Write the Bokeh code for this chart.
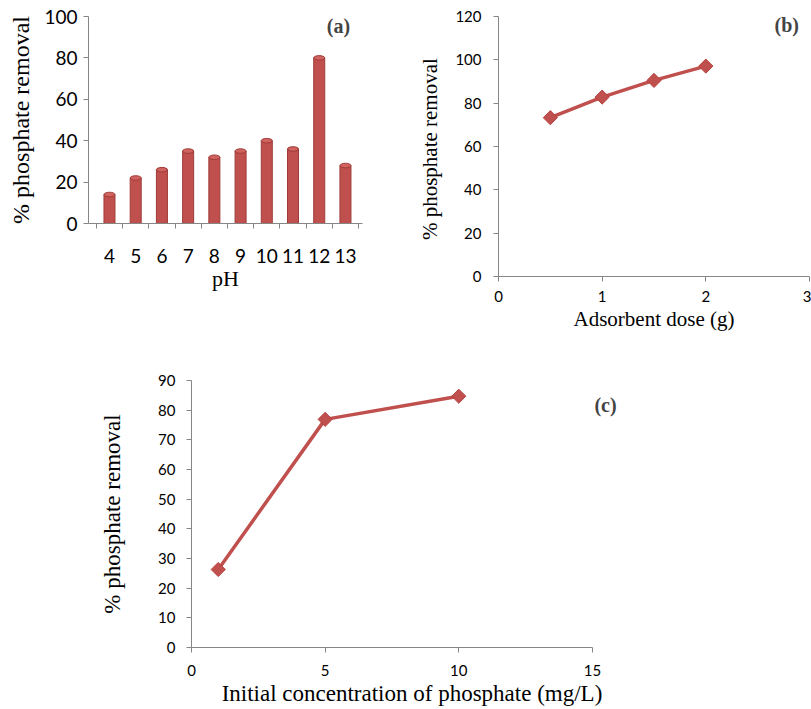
from bokeh.plotting import figure
from bokeh.models import Range1d, FixedTicker, SingleIntervalTicker, Label
from bokeh.layouts import column, row
from bokeh.embed import file_html
from bokeh.resources import INLINE

# ---------------- data ----------------
ph = [4, 5, 6, 7, 8, 9, 10, 11, 12, 13]
ph_removal = [14, 22, 26, 35, 32, 35, 40, 36, 80, 28]

dose = [0.5, 1.0, 1.5, 2.0]
dose_removal = [73.3, 82.8, 90.5, 97.1]

conc = [1, 5, 10]
conc_removal = [26.3, 76.9, 84.7]

RED = "#C0504D"
DARK = "#9E3B38"
AXIS = "#868686"
TICK_FONT = "Lato"
SERIF = "Liberation Serif"


def style(p, tick_size, label_size):
    p.outline_line_color = None
    p.xgrid.visible = False
    p.ygrid.visible = False
    for ax in (p.xaxis[0], p.yaxis[0]):
        ax.axis_line_color = AXIS
        ax.major_tick_line_color = AXIS
        ax.minor_tick_line_color = None
        ax.major_tick_in = 0
        ax.major_tick_out = 5
        ax.major_label_text_font = TICK_FONT
        ax.major_label_text_font_size = tick_size
        ax.major_label_text_color = "#000000"
        ax.axis_label_text_font = SERIF
        ax.axis_label_text_font_style = "normal"
        ax.axis_label_text_font_size = label_size
        ax.axis_label_text_color = "#000000"


# ---------------- panel (a) ----------------
pa = figure(width=400, height=300, x_range=Range1d(3.2, 13.65), y_range=Range1d(0, 100),
            min_border_left=88, min_border_right=38, min_border_top=16, min_border_bottom=77,
            output_backend="svg", toolbar_location=None)
style(pa, "19px", "24px")
pa.vbar(x=ph, top=ph_removal, bottom=0, width=0.42, fill_color=RED, line_color=DARK, line_width=1)
pa.ellipse(x=ph, y=ph_removal, width=0.42, height=2.2, fill_color="#D0625F", line_color=DARK, line_width=1)
pa.yaxis.ticker = SingleIntervalTicker(interval=20)
pa.xaxis.ticker = FixedTicker(ticks=ph, minor_ticks=[v - 0.5 for v in ph] + [ph[-1] + 0.5])
pa.xaxis.major_tick_out = 0
pa.xaxis.minor_tick_line_color = AXIS
pa.xaxis.minor_tick_out = 5
pa.xaxis.minor_tick_in = 0
pa.xaxis.major_label_standoff = 20
pa.xaxis.axis_label = "pH"
pa.xaxis.axis_label_text_font_size = "22px"
pa.xaxis.axis_label_standoff = 0
pa.yaxis.major_label_standoff = 6
pa.yaxis.axis_label = "% phosphate removal"
pa.yaxis.axis_label_standoff = 7
pa.add_layout(Label(x=12.73, y=95.6, text="(a)", text_font=SERIF, text_font_style="bold",
                    text_font_size="20px", text_align="center", text_baseline="middle"))

# ---------------- panel (b) ----------------
pb = figure(width=411, height=353, x_range=Range1d(0, 3), y_range=Range1d(0, 120),
            min_border_left=98, min_border_right=2, min_border_top=16, min_border_bottom=77,
            output_backend="svg", toolbar_location=None)
style(pb, "15px", "21px")
pb.line(dose, dose_removal, line_color=RED, line_width=3.5)
pb.scatter(dose, dose_removal, marker="square", angle=0.785398, size=10,
           fill_color=RED, line_color="#B8413E", line_width=1)
pb.yaxis.ticker = SingleIntervalTicker(interval=20)
pb.xaxis.ticker = SingleIntervalTicker(interval=1)
pb.xaxis.major_label_standoff = 9
pb.xaxis.axis_label = "Adsorbent dose (g)"
pb.xaxis.axis_label_standoff = 2
pb.yaxis.major_label_standoff = 12
pb.yaxis.axis_label = "% phosphate  removal"
pb.yaxis.axis_label_standoff = 10
pb.add_layout(Label(x=2.78, y=116.3, text="(b)", text_font=SERIF, text_font_style="bold",
                    text_font_size="20px", text_align="center", text_baseline="middle"))

# ---------------- panel (c) ----------------
pc = figure(width=811, height=356, x_range=Range1d(0, 16.5), y_range=Range1d(0, 90),
            min_border_left=191, min_border_right=179, min_border_top=27, min_border_bottom=62,
            output_backend="svg", toolbar_location=None)
style(pc, "15px", "23px")
pc.line(conc, conc_removal, line_color=RED, line_width=3.5)
pc.scatter(conc, conc_removal, marker="square", angle=0.785398, size=10,
           fill_color=RED, line_color="#B8413E", line_width=1)
pc.yaxis.ticker = SingleIntervalTicker(interval=10)
pc.xaxis.ticker = FixedTicker(ticks=[0, 5, 10, 15])
pc.xaxis.bounds = (0, 15)
pc.xaxis.major_label_standoff = 12
pc.xaxis.axis_label = "Initial concentration of phosphate (mg/L)"
pc.xaxis.axis_label_standoff = 2
pc.yaxis.major_label_standoff = 11
pc.yaxis.axis_label = "% phosphate removal"
pc.yaxis.axis_label_standoff = 30
pc.add_layout(Label(x=15.49, y=81.9, text="(c)", text_font=SERIF, text_font_style="bold",
                    text_font_size="20px", text_align="center", text_baseline="middle"))

layout = column(row(pa, pb), pc)
open("out.html", "w").write(file_html(layout, INLINE))
